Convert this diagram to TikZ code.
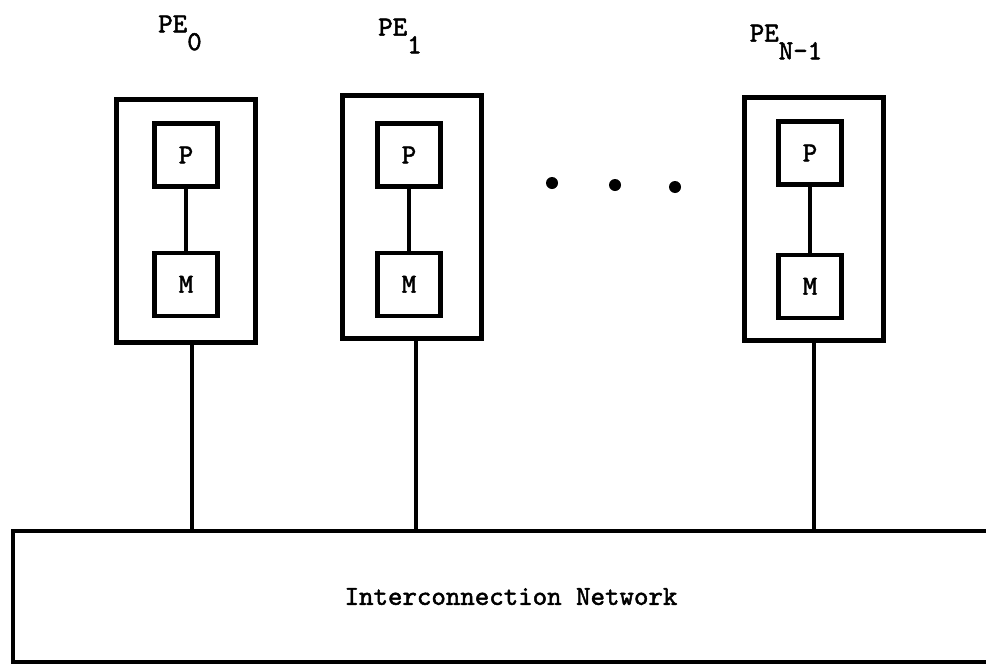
\documentclass[tikz,border=0pt]{standalone}
\usepackage{fontspec}
\setmonofont{lmmono10-regular.otf}[FakeBold=1.8]
\usetikzlibrary{positioning}
\newcommand{\lowsub}[1]{\raisebox{-1.5ex}{#1}}

\begin{document}
\begin{tikzpicture}[
    x=0.025cm, y=-0.025cm,
    pebox/.style={draw, line width=3pt, minimum width=3.475cm, minimum height=6.075cm,
                  inner sep=0pt},
    unit/.style={draw, line width=3pt, minimum width=1.575cm, minimum height=1.575cm,
                 inner sep=0pt, font=\ttfamily\fontsize{19.6}{22}\selectfont},
    netbox/.style={draw, line width=3pt, minimum width=24.9cm, minimum height=3.275cm,
                   inner sep=0pt, font=\ttfamily\fontsize{19.6}{22}\selectfont},
    pelabel/.style={inner sep=0pt, font=\ttfamily\fontsize{19.6}{22}\selectfont},
    dot/.style={circle, fill, inner sep=0pt, minimum size=0.3cm},
    link/.style={line width=2.5pt}
  ]
  \clip (0,0) rectangle (986,664);

  % Processing elements
  \node[pebox] (pe0) at (186,221) {};
  \node[pebox] (pe1) at (412,217) {};
  \node[pebox] (pen) at (814,219) {};

  % Processor and memory of each PE
  \node[unit, below=0.6cm of pe0.north] (p0) {P};
  \node[unit, below=1.55cm of p0] (m0) {M};
  \node[unit, below=0.7cm of pe1.north, xshift=-0.075cm] (p1) {P};
  \node[unit, below=1.55cm of p1] (m1) {M};
  \node[unit, below=0.6cm of pen.north, xshift=-0.1cm] (pn) {P};
  \node[unit, below=1.65cm of pn] (mn) {M};

  % Ellipsis
  \node[dot] (dot1) at (552,183) {};
  \node[dot] (dot2) at (615,185) {};
  \node[dot] (dot3) at (675,187) {};

  % Network
  \node[netbox] (net) at (511,596.5) {Interconnection Network};

  % Links
  \draw[link] (p0) -- (m0);
  \draw[link] (p1) -- (m1);
  \draw[link] (pn) -- (mn);
  \draw[link] ([xshift=0.15cm]pe0.south) -- ([xshift=0.15cm]pe0.south |- net.north);
  \draw[link] ([xshift=0.1cm]pe1.south) -- ([xshift=0.1cm]pe1.south |- net.north);
  \draw[link] (pen.south) -- (pen.south |- net.north);

  % Labels
  \node[pelabel] (lab0) at (180,33) {PE\lowsub{0}};
  \node[pelabel] (lab1) at (400,36) {PE\lowsub{1}};
  \node[pelabel] (labn) at (786,42) {PE\lowsub{N-1}};
\end{tikzpicture}
\end{document}
